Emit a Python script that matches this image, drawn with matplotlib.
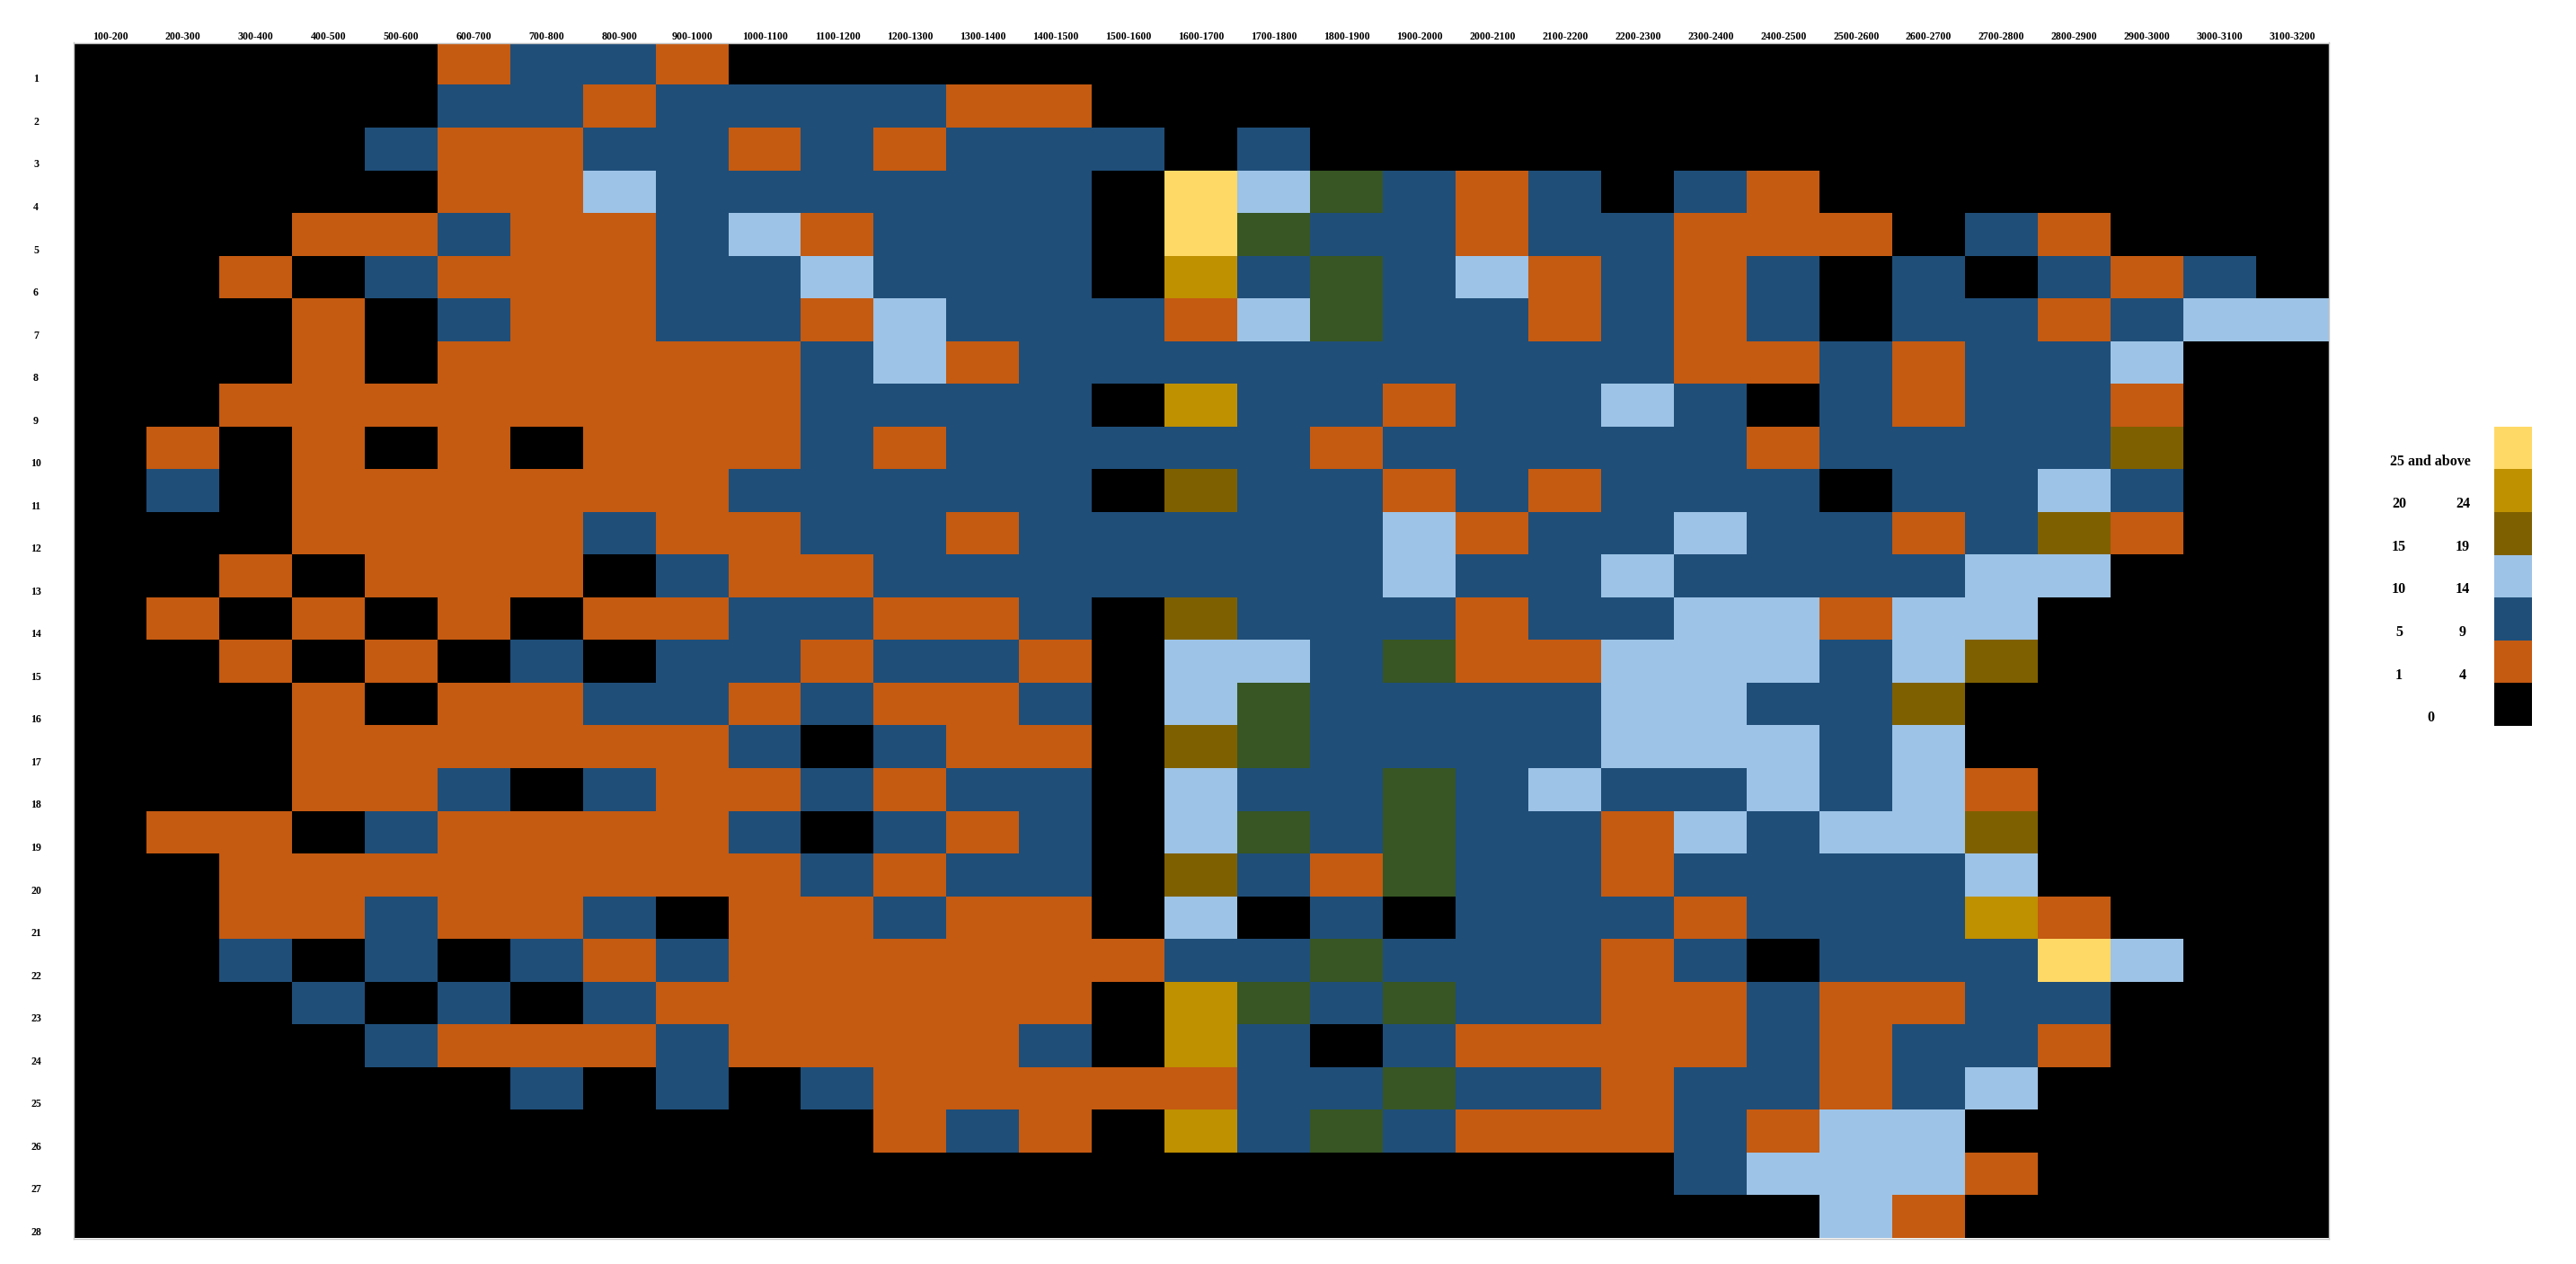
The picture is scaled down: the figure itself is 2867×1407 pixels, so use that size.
import numpy as np
import matplotlib
matplotlib.use("Agg")
import matplotlib.pyplot as plt
from matplotlib.colors import ListedColormap, BoundaryNorm
from matplotlib.transforms import blended_transform_factory

plt.rcParams["font.family"] = ["Liberation Serif", "DejaVu Serif"]
plt.rcParams["font.weight"] = "bold"

# column bands and row labels
bands = [f"{a}-{a + 100}" for a in range(100, 3200, 100)]
row_labels = [str(i) for i in range(1, 29)]

# class per cell: 0 = 0, 1 = 1-4, 2 = 5-9, 3 = 10-14, 4 = 15-19,
# 5 = 20-24, 6 = 25 and above, 7 = (green, not in legend)
r01 = [0,0,0,0,0,1,2,2,1,0,0,0,0,0,0,0,0,0,0,0,0,0,0,0,0,0,0,0,0,0,0]
r02 = [0,0,0,0,0,2,2,1,2,2,2,2,1,1,0,0,0,0,0,0,0,0,0,0,0,0,0,0,0,0,0]
r03 = [0,0,0,0,2,1,1,2,2,1,2,1,2,2,2,0,2,0,0,0,0,0,0,0,0,0,0,0,0,0,0]
r04 = [0,0,0,0,0,1,1,3,2,2,2,2,2,2,0,6,3,7,2,1,2,0,2,1,0,0,0,0,0,0,0]
r05 = [0,0,0,1,1,2,1,1,2,3,1,2,2,2,0,6,7,2,2,1,2,2,1,1,1,0,2,1,0,0,0]
r06 = [0,0,1,0,2,1,1,1,2,2,3,2,2,2,0,5,2,7,2,3,1,2,1,2,0,2,0,2,1,2,0]
r07 = [0,0,0,1,0,2,1,1,2,2,1,3,2,2,2,1,3,7,2,2,1,2,1,2,0,2,2,1,2,3,3]
r08 = [0,0,0,1,0,1,1,1,1,1,2,3,1,2,2,2,2,2,2,2,2,2,1,1,2,1,2,2,3,0,0]
r09 = [0,0,1,1,1,1,1,1,1,1,2,2,2,2,0,5,2,2,1,2,2,3,2,0,2,1,2,2,1,0,0]
r10 = [0,1,0,1,0,1,0,1,1,1,2,1,2,2,2,2,2,1,2,2,2,2,2,1,2,2,2,2,4,0,0]
r11 = [0,2,0,1,1,1,1,1,1,2,2,2,2,2,0,4,2,2,1,2,1,2,2,2,0,2,2,3,2,0,0]
r12 = [0,0,0,1,1,1,1,2,1,1,2,2,1,2,2,2,2,2,3,1,2,2,3,2,2,1,2,4,1,0,0]
r13 = [0,0,1,0,1,1,1,0,2,1,1,2,2,2,2,2,2,2,3,2,2,3,2,2,2,2,3,3,0,0,0]
r14 = [0,1,0,1,0,1,0,1,1,2,2,1,1,2,0,4,2,2,2,1,2,2,3,3,1,3,3,0,0,0,0]
r15 = [0,0,1,0,1,0,2,0,2,2,1,2,2,1,0,3,3,2,7,1,1,3,3,3,2,3,4,0,0,0,0]
r16 = [0,0,0,1,0,1,1,2,2,1,2,1,1,2,0,3,7,2,2,2,2,3,3,2,2,4,0,0,0,0,0]
r17 = [0,0,0,1,1,1,1,1,1,2,0,2,1,1,0,4,7,2,2,2,2,3,3,3,2,3,0,0,0,0,0]
r18 = [0,0,0,1,1,2,0,2,1,1,2,1,2,2,0,3,2,2,7,2,3,2,2,3,2,3,1,0,0,0,0]
r19 = [0,1,1,0,2,1,1,1,1,2,0,2,1,2,0,3,7,2,7,2,2,1,3,2,3,3,4,0,0,0,0]
r20 = [0,0,1,1,1,1,1,1,1,1,2,1,2,2,0,4,2,1,7,2,2,1,2,2,2,2,3,0,0,0,0]
r21 = [0,0,1,1,2,1,1,2,0,1,1,2,1,1,0,3,0,2,0,2,2,2,1,2,2,2,5,1,0,0,0]
r22 = [0,0,2,0,2,0,2,1,2,1,1,1,1,1,1,2,2,7,2,2,2,1,2,0,2,2,2,6,3,0,0]
r23 = [0,0,0,2,0,2,0,2,1,1,1,1,1,1,0,5,7,2,7,2,2,1,1,2,1,1,2,2,0,0,0]
r24 = [0,0,0,0,2,1,1,1,2,1,1,1,1,2,0,5,2,0,2,1,1,1,1,2,1,2,2,1,0,0,0]
r25 = [0,0,0,0,0,0,2,0,2,0,2,1,1,1,1,1,2,2,7,2,2,1,2,2,1,2,3,0,0,0,0]
r26 = [0,0,0,0,0,0,0,0,0,0,0,1,2,1,0,5,2,7,2,1,1,1,2,1,3,3,0,0,0,0,0]
r27 = [0,0,0,0,0,0,0,0,0,0,0,0,0,0,0,0,0,0,0,0,0,0,2,3,3,3,1,0,0,0,0]
r28 = [0,0,0,0,0,0,0,0,0,0,0,0,0,0,0,0,0,0,0,0,0,0,0,0,3,1,0,0,0,0,0]

grid = np.array([r01, r02, r03, r04, r05, r06, r07, r08, r09, r10, r11, r12, r13, r14,
                 r15, r16, r17, r18, r19, r20, r21, r22, r23, r24, r25, r26, r27, r28])

class_colors = ["#000000", "#C55A11", "#1F4E79", "#9DC3E6",
                "#7F6000", "#BF9000", "#FFD966", "#375623"]
legend_lo = ["25 and above", "20", "15", "10", "5", "1", "0"]
legend_hi = [None, "24", "19", "14", "9", "4", None]
legend_classes = [6, 5, 4, 3, 2, 1, 0]

W, H = 2867, 1407
fig = plt.figure(figsize=(W / 100, H / 100), dpi=100)

cmap = ListedColormap(class_colors)
norm = BoundaryNorm(np.arange(-0.5, len(class_colors)), cmap.N)

left, right, top, bottom = 82, 2592, 47.5, 1378.5
ax = fig.add_axes([left / W, 1 - bottom / H, (right - left) / W, (bottom - top) / H])
ax.imshow(grid, cmap=cmap, norm=norm, aspect="auto", interpolation="nearest")
ax.set_xticks([])
ax.set_yticks([])
for s in ax.spines.values():
    s.set_color("#C8C8C8")
    s.set_linewidth(1.0)

# column labels above the grid
tx = blended_transform_factory(ax.transData, fig.transFigure)
for j, lab in enumerate(bands):
    ax.text(j, 1 - 41 / H, lab, transform=tx, ha="center", va="center",
            fontsize=8.6, fontweight="bold")

# row labels, sitting toward the bottom of each row
ty = blended_transform_factory(fig.transFigure, ax.transData)
for i, lab in enumerate(row_labels):
    ax.text(40 / W, i + 0.36, lab, transform=ty, ha="center", va="center",
            fontsize=8.6, fontweight="bold")

# legend
lx0, lx1, ly0, ly1 = 2776, 2818, 475, 808
lax = fig.add_axes([lx0 / W, 1 - ly1 / H, (lx1 - lx0) / W, (ly1 - ly0) / H])
lax.imshow(np.array(legend_classes).reshape(-1, 1), cmap=cmap, norm=norm,
           aspect="auto", interpolation="nearest")
lax.set_xticks([])
lax.set_yticks([])
for s in lax.spines.values():
    s.set_visible(False)

step = (ly1 - ly0) / len(legend_classes)
for k, (lo, hi) in enumerate(zip(legend_lo, legend_hi)):
    y = 1 - (ly0 + step * (k + 0.5) + 15) / H
    if hi is None:
        fig.text(2705 / W, y, lo, ha="center", va="center", fontsize=11.5, fontweight="bold")
    else:
        fig.text(2670 / W, y, lo, ha="center", va="center", fontsize=11.5, fontweight="bold")
        fig.text(2741 / W, y, hi, ha="center", va="center", fontsize=11.5, fontweight="bold")

fig.savefig("out.png", dpi=100, facecolor="white")
